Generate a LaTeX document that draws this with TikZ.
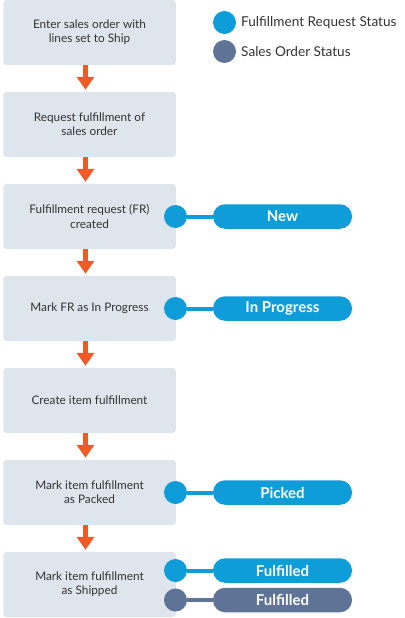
\documentclass[tikz,border=0pt]{standalone}
\usepackage{fontspec}
\setmainfont{Lato}
\usetikzlibrary{arrows.meta}
\definecolor{boxfill}{HTML}{DFE5ED}
\definecolor{frblue}{HTML}{0E9DD9}
\definecolor{soslate}{HTML}{5F7397}
\definecolor{flowor}{HTML}{F15A24}
\definecolor{txt}{HTML}{333333}
\tikzset{
  stepbox/.style={fill=boxfill, rounded corners=3pt, minimum width=172.5pt, minimum height=65pt, inner sep=0pt, align=center, text=txt, font=\fontsize{11.8}{14.3}\selectfont},
  flow/.style={draw=flowor, line width=4.5pt, -{Triangle[width=17pt,length=13pt]}, shorten >=2pt},
  dotfr/.style={circle, fill=frblue, minimum size=23pt, inner sep=0pt},
  dotso/.style={circle, fill=soslate, minimum size=23pt, inner sep=0pt},
  pillfr/.style={fill=frblue, rounded corners=12pt, minimum width=139pt, minimum height=24.5pt, inner sep=0pt, text=white, font=\fontsize{15}{16}\bfseries},
  pillso/.style={pillfr, fill=soslate},
  linkfr/.style={draw=frblue, line width=4pt},
  linkso/.style={draw=soslate, line width=4pt},
  legend/.style={anchor=west, text=txt, inner sep=0pt, font=\fontsize{13.6}{15}\selectfont}
}
\begin{document}
\begin{tikzpicture}[x=1pt,y=-1pt]
\useasboundingbox (0,0) rectangle (404,618);
\node[stepbox] (b1) at (89.5,32.5) {Enter sales order with\\lines set to Ship};
\node[stepbox] (b2) at (89.5,124.5) {Request fulfillment of\\sales order};
\node[stepbox] (b3) at (89.5,216.5) {Fulfillment request (FR)\\created};
\node[stepbox] (b4) at (89.5,308.5) {Mark FR as In Progress};
\node[stepbox] (b5) at (89.5,400.5) {Create item fulfillment};
\node[stepbox] (b6) at (89.5,492.5) {Mark item fulfillment\\as Packed};
\node[stepbox] (b7) at (89.5,584.5) {Mark item fulfillment\\as Shipped};
\foreach \a/\b in {b1/b2,b2/b3,b3/b4,b4/b5,b5/b6,b6/b7}
  \draw[flow] ([xshift=-4pt]\a.south) -- ([xshift=-4pt]\b.north);
% legend
\node[dotfr] (lg1) at (224.5,22.5) {};
\node[legend] (lt1) at (241,22.5) {Fulfillment Request Status};
\node[dotso] (lg2) at (224.5,51.5) {};
\node[legend] (lt2) at (241,51.5) {Sales Order Status};
% statuses
\node[dotfr] (c3) at (175.5,216.5) {};
\node[pillfr] (p3) at (282.5,216.5) {New};
\draw[linkfr] (c3) -- (p3);
\node[dotfr] (c4) at (175.5,308.5) {};
\node[pillfr] (p4) at (282.5,308.5) {In Progress};
\draw[linkfr] (c4) -- (p4);
\node[dotfr] (c6) at (175.5,492.5) {};
\node[pillfr] (p6) at (282.5,492.5) {Picked};
\draw[linkfr] (c6) -- (p6);
\node[dotfr] (c7a) at (175.5,570.5) {};
\node[pillfr] (p7a) at (282.5,570.5) {Fulfilled};
\draw[linkfr] (c7a) -- (p7a);
\node[dotso] (c7b) at (175.5,600) {};
\node[pillso] (p7b) at (282.5,600) {Fulfilled};
\draw[linkso] (c7b) -- (p7b);
\end{tikzpicture}
\end{document}
